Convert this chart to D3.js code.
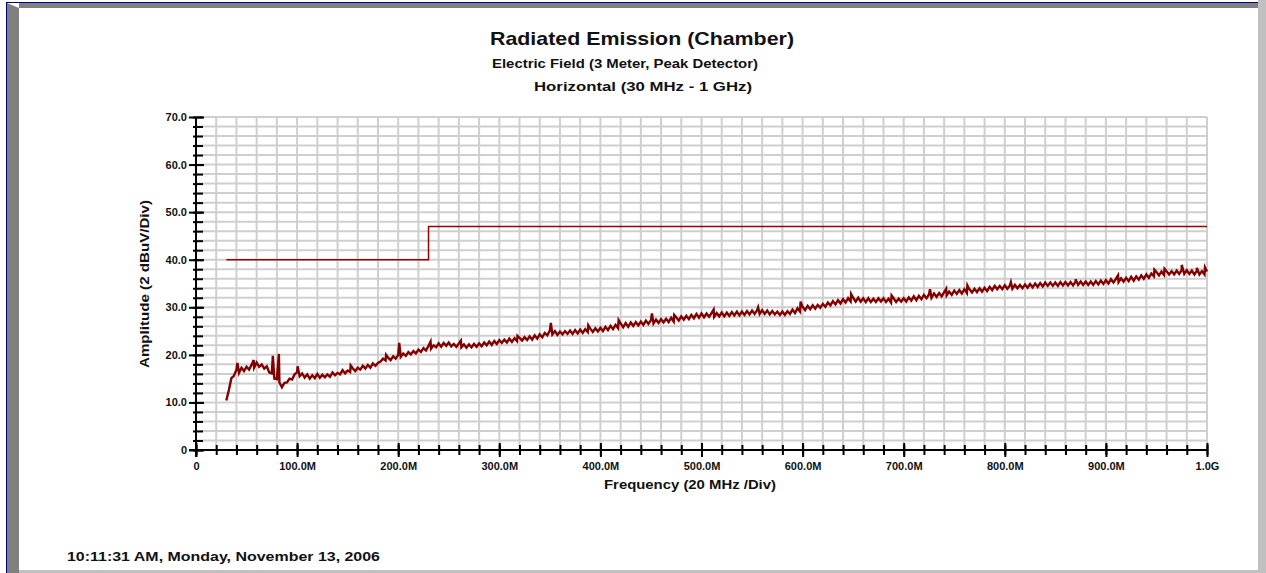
<!DOCTYPE html>
<html>
<head>
<meta charset="utf-8">
<script src="https://cdn.jsdelivr.net/npm/d3@7/dist/d3.min.js"></script>
<style>
    body { margin: 0; background: #ffffff; }
    text { font-family: "Liberation Sans", Arial, sans-serif; font-weight: bold; fill: #111; }
</style>
</head>
<body>
<div id="chart-area"></div>
<script>

var traceFreq = d3.range(30, 1000.01, 2.5);
var traceAmp = [
    10.4, 12.6, 15.1, 15.6, 16.9, 16.2, 17.3, 16.6, 17.5, 16.9, 17.9, 17.3, 18.4, 17.5, 18.0, 17.1, 17.6, 16.3, 16.1, 15.0,
    14.9, 14.2, 13.2, 14.1, 14.2, 15.0, 14.8, 15.9, 16.3, 15.5, 16.1, 15.2, 15.9, 15.0, 15.7, 15.1, 16.0, 15.2, 15.8, 15.3,
    15.9, 15.4, 16.3, 15.7, 16.2, 15.9, 16.8, 16.1, 16.7, 16.4, 17.2, 16.6, 17.3, 16.9, 17.7, 17.1, 17.9, 17.3, 18.2, 17.7,
    18.3, 18.6, 19.2, 18.8, 19.4, 18.9, 19.7, 19.2, 20.0, 19.6, 20.3, 19.8, 20.6, 20.1, 20.8, 20.3, 21.1, 20.6, 21.4, 20.9,
    21.9, 21.3, 22.0, 21.6, 22.4, 21.7, 22.5, 21.9, 22.6, 21.8, 22.3, 21.7, 22.4, 21.6, 22.2, 21.5, 22.2, 21.6, 22.3, 21.7,
    22.4, 21.8, 22.6, 22.0, 22.8, 22.1, 22.9, 22.3, 23.1, 22.5, 23.2, 22.6, 23.4, 22.7, 23.5, 22.9, 23.6, 23.0, 23.7, 23.1,
    23.9, 23.2, 24.1, 23.4, 24.3, 23.7, 24.6, 24.1, 25.1, 24.3, 25.0, 24.2, 24.9, 24.3, 25.0, 24.4, 25.1, 24.4, 25.2, 24.5,
    25.3, 24.6, 25.4, 24.8, 25.5, 24.8, 25.6, 24.9, 25.7, 25.0, 25.9, 25.2, 26.1, 25.4, 26.3, 25.6, 26.6, 25.8, 26.7, 25.9,
    26.8, 26.1, 26.9, 26.2, 27.0, 26.3, 27.2, 26.5, 27.3, 26.6, 27.4, 26.7, 27.5, 26.8, 27.6, 26.9, 27.8, 27.0, 27.9, 27.2,
    28.1, 27.4, 28.2, 27.5, 28.4, 27.7, 28.6, 27.8, 28.7, 27.9, 28.7, 28.0, 28.8, 28.0, 28.8, 28.1, 28.9, 28.1, 28.9, 28.2,
    29.0, 28.3, 29.1, 28.3, 29.1, 28.4, 29.2, 28.5, 29.3, 28.6, 29.4, 28.6, 29.4, 28.6, 29.3, 28.5, 29.2, 28.5, 29.1, 28.4,
    29.1, 28.4, 29.2, 28.6, 29.5, 28.8, 29.8, 29.1, 30.1, 29.4, 30.3, 29.6, 30.4, 29.7, 30.5, 29.9, 30.7, 30.1, 31.0, 30.4,
    31.3, 30.6, 31.5, 30.8, 31.7, 31.0, 31.9, 31.2, 32.0, 31.2, 32.0, 31.2, 31.9, 31.1, 31.9, 31.1, 31.8, 31.1, 31.9, 31.2,
    31.9, 31.1, 31.8, 31.0, 31.9, 31.1, 31.8, 31.2, 31.9, 31.2, 32.1, 31.4, 32.3, 31.5, 32.4, 31.7, 32.6, 31.9, 32.7, 32.0,
    32.9, 32.2, 33.0, 32.3, 33.2, 32.5, 33.3, 32.6, 33.5, 32.8, 33.6, 32.9, 33.8, 33.0, 33.8, 33.1, 33.9, 33.2, 34.0, 33.3,
    34.1, 33.4, 34.3, 33.6, 34.5, 33.8, 34.5, 33.8, 34.6, 33.9, 34.6, 33.9, 34.7, 34.0, 34.7, 34.0, 34.8, 34.1, 34.9, 34.2,
    35.0, 34.3, 35.1, 34.4, 35.2, 34.5, 35.2, 34.5, 35.2, 34.5, 35.3, 34.6, 35.3, 34.6, 35.3, 34.6, 35.4, 34.7, 35.4, 34.7,
    35.4, 34.7, 35.4, 34.7, 35.5, 34.8, 35.6, 34.9, 35.7, 35.0, 35.9, 35.2, 36.0, 35.3, 36.1, 35.4, 36.2, 35.5, 36.4, 35.6,
    36.5, 35.8, 36.7, 36.0, 36.9, 36.2, 37.1, 36.5, 37.4, 36.7, 37.5, 36.8, 37.6, 36.9, 37.6, 36.9, 37.7, 37.0, 37.8, 37.0,
    37.8, 37.0, 37.7, 36.9, 37.7, 36.9, 37.6, 36.9, 37.5
];

// narrow peaks that sit between the samples [MHz, dBuV]
var tracePeaks = [
    [41, 18.3], [57, 18.9], [76, 19.8], [82, 20.2], [100.5, 17.6], [153, 17.8],
    [188, 20.0], [201, 22.5], [232, 22.8], [262, 23.0], [318, 24.0], [351, 26.7],
    [388, 26.2], [418, 27.3], [451, 28.7], [473, 28.4], [512, 29.5], [556, 30.0],
    [598, 31.2], [648, 32.8], [688, 32.5], [726, 33.8], [742, 33.9], [763, 34.6],
    [806, 35.3], [870, 35.9], [912, 36.7], [948, 37.9], [958, 38.1], [975, 38.9],
    [990, 38.3], [998, 38.4]
];

// limit line
var limitFreq = [30, 230, 230, 1000];
var limitAmp = [40, 40, 47, 47];

// axis ticks
var yMajorTicks = [0, 10, 20, 30, 40, 50, 60, 70];
var xMajorTicks = [0, 100, 200, 300, 400, 500, 600, 700, 800, 900, 1000];
var xTickLabels = ["0", "100.0M", "200.0M", "300.0M", "400.0M", "500.0M",
    "600.0M", "700.0M", "800.0M", "900.0M", "1.0G"];

var titleText = "Radiated Emission (Chamber)";
var subTitle1 = "Electric Field (3 Meter, Peak Detector)";
var subTitle2 = "Horizontal (30 MHz - 1 GHz)";
var xTitle = "Frequency (20 MHz /Div)";
var yTitle = "Amplitude (2 dBuV/Div)";
var stampText = "10:11:31 AM, Monday, November 13, 2006";


EmissionChart = function(_parentElement) {
    this.parentElement = _parentElement;
    this.initVis();
}

EmissionChart.prototype.initVis = function() {
    var vis = this;

    vis.fullWidth = 1266;
    vis.fullHeight = 573;

    vis.svg = d3.select("#" + vis.parentElement).append("svg")
        .attr("width", vis.fullWidth)
        .attr("height", vis.fullHeight);

    // window frame
    vis.svg.append("rect").attr("x", 7).attr("y", 3).attr("width", 1251).attr("height", 5).attr("fill", "#808080");
    vis.svg.append("rect").attr("x", 7).attr("y", 3).attr("width", 12).attr("height", 570).attr("fill", "#808080");
    vis.svg.append("rect").attr("x", 1258).attr("y", 0).attr("width", 8).attr("height", 573).attr("fill", "#c0c0c0");
    vis.svg.append("rect").attr("x", 19).attr("y", 570).attr("width", 1240).attr("height", 3).attr("fill", "#c0c0c0");
    vis.svg.append("path").attr("d", "M7,3 L19,8 L19,3 Z").attr("fill", "#ffffff");
    vis.svg.append("line").attr("x1", 6).attr("x2", 1258).attr("y1", 2.5).attr("y2", 2.5)
        .attr("stroke", "#000080").attr("stroke-width", 1);
    vis.svg.append("line").attr("x1", 6.5).attr("x2", 6.5).attr("y1", 2).attr("y2", 573)
        .attr("stroke", "#000080").attr("stroke-width", 1);

    vis.x = d3.scaleLinear().domain([0, 1000]).range([196, 1207]);
    vis.y = d3.scaleLinear().domain([0, 70]).range([450, 117]);

    // grid, 20 MHz x 2 dB
    vis.svg.append("g").attr("class", "grid")
        .selectAll("line.v")
        .data(d3.range(0, 1001, 20))
        .enter().append("line")
        .attr("x1", function(d) { return vis.x(d); })
        .attr("x2", function(d) { return vis.x(d); })
        .attr("y1", vis.y(70))
        .attr("y2", vis.y(0))
        .attr("stroke", "#cfcfcf")
        .attr("stroke-width", 2);

    vis.svg.append("g").attr("class", "grid")
        .selectAll("line.h")
        .data(d3.range(0, 71, 2))
        .enter().append("line")
        .attr("x1", vis.x(0))
        .attr("x2", vis.x(1000))
        .attr("y1", function(d) { return vis.y(d); })
        .attr("y2", function(d) { return vis.y(d); })
        .attr("stroke", "#cfcfcf")
        .attr("stroke-width", 2);

    // Y axis: ticks cross the axis line, so shift the groups right
    vis.svg.append("g")
        .attr("transform", "translate(203,0)")
        .call(d3.axisLeft(vis.y).tickValues(d3.range(0, 71, 2)).tickSize(10).tickFormat(""))
        .call(function(g) { g.select(".domain").remove(); })
        .selectAll("line").attr("stroke", "#000").attr("stroke-width", 2);

    vis.svg.append("g")
        .attr("class", "y-major")
        .attr("transform", "translate(204,0)")
        .call(d3.axisLeft(vis.y).tickValues(yMajorTicks).tickSize(15).tickPadding(2)
            .tickFormat(function(d) { return d === 0 ? "0" : d3.format(".1f")(d); }))
        .call(function(g) { g.select(".domain").remove(); });

    vis.svg.selectAll(".y-major line").attr("stroke", "#000").attr("stroke-width", 2);
    vis.svg.selectAll(".y-major text").style("font-size", "11px").attr("fill", "#111");

    // X axis
    vis.svg.append("g")
        .attr("transform", "translate(0,445)")
        .call(d3.axisBottom(vis.x).tickValues(d3.range(0, 1001, 20)).tickSize(10).tickFormat(""))
        .call(function(g) { g.select(".domain").remove(); })
        .selectAll("line").attr("stroke", "#000").attr("stroke-width", 2);

    vis.svg.append("g")
        .attr("class", "x-major")
        .attr("transform", "translate(0,443)")
        .call(d3.axisBottom(vis.x).tickValues(xMajorTicks).tickSize(14).tickPadding(5)
            .tickFormat(function(d, i) { return xTickLabels[i]; }))
        .call(function(g) { g.select(".domain").remove(); });

    vis.svg.selectAll(".x-major line").attr("stroke", "#000").attr("stroke-width", 2);
    vis.svg.selectAll(".x-major text").style("font-size", "11px").attr("fill", "#111");

    // axis lines
    vis.svg.append("line")
        .attr("x1", vis.x(0)).attr("x2", vis.x(0))
        .attr("y1", vis.y(70)).attr("y2", 457)
        .attr("stroke", "#000").attr("stroke-width", 2);
    vis.svg.append("line")
        .attr("x1", 189).attr("x2", vis.x(1000))
        .attr("y1", vis.y(0)).attr("y2", vis.y(0))
        .attr("stroke", "#000").attr("stroke-width", 2);

    // limit line
    var freqLine = d3.line()
        .x(function(d) { return vis.x(d[0]); })
        .y(function(d) { return vis.y(d[1]); });

    vis.svg.append("path")
        .datum(limitFreq.map(function(f, i) { return [f, limitAmp[i]]; }))
        .attr("d", freqLine)
        .attr("fill", "none")
        .attr("stroke", "#990000")
        .attr("stroke-width", 1.5);

    // measured trace
    vis.tracePoints = traceFreq.map(function(f, i) { return [f, traceAmp[i]]; })
        .concat(tracePeaks)
        .sort(function(a, b) { return a[0] - b[0]; });

    vis.svg.append("path")
        .datum(vis.tracePoints)
        .attr("d", freqLine)
        .attr("fill", "none")
        .attr("stroke", "#820000")
        .attr("stroke-width", 2.4)
        .attr("stroke-linejoin", "miter");

    // titles, stretched to the widths of the original print
    var label = function(txt, x, y, size, len, rotate) {
        var t = vis.svg.append("text")
            .attr("x", x).attr("y", y)
            .style("font-size", size + "px")
            .attr("textLength", len)
            .attr("lengthAdjust", "spacingAndGlyphs")
            .text(txt);
        if (rotate) t.attr("transform", "rotate(-90)");
        return t;
    };

    label(titleText, 642, 45, 19, 304).style("text-anchor", "middle");
    label(subTitle1, 625, 68, 13, 266).style("text-anchor", "middle");
    label(subTitle2, 643, 91, 13, 218).style("text-anchor", "middle");
    label(xTitle, 690, 489, 13, 172).style("text-anchor", "middle");
    label(yTitle, -284, 149, 13, 168, true).style("text-anchor", "middle");
    label(stampText, 67, 561, 13, 313);
}

var chart = new EmissionChart("chart-area");

</script>
</body>
</html>
